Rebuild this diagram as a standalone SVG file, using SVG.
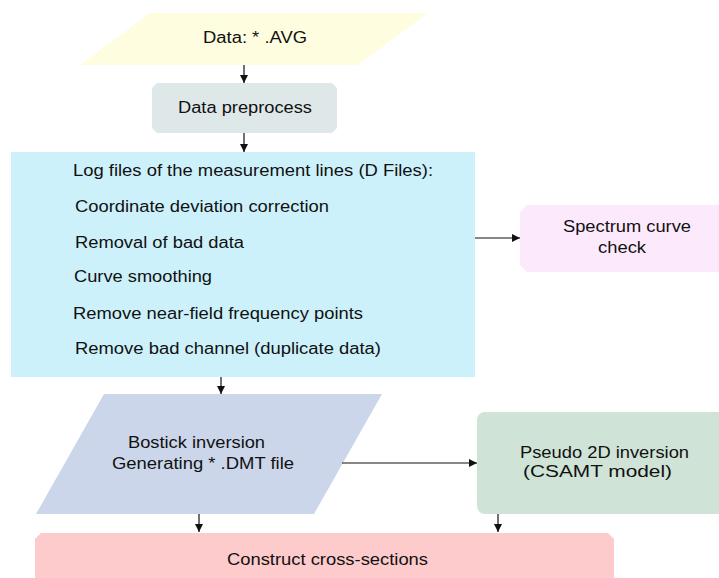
<svg xmlns="http://www.w3.org/2000/svg" width="719" height="578" viewBox="0 0 719 578">
<style>
text{font-family:"Liberation Sans",Arial,sans-serif;font-size:16px;fill:#111}
.c{stroke:#111;stroke-width:1.2;fill:none;marker-end:url(#ah)}
</style>
<defs>
<marker id="ah" viewBox="0 0 10 10" refX="10" refY="5" markerWidth="8" markerHeight="8" markerUnits="userSpaceOnUse" orient="auto">
<path d="M0,0L10,5L0,10z" fill="#111"/>
</marker>
</defs>
<rect width="719" height="578" fill="#fff"/>
<g id="n-data">
<polygon points="150,13 428,13 358,65 80,65" fill="#fefde0"/>
<text x="203" y="43" textLength="104" lengthAdjust="spacingAndGlyphs">Data: * .AVG</text>
</g>
<g id="n-pre">
<polygon points="157,83 332,83 337,88 337,128 332,133 157,133 152,128 152,88" fill="#dfe8e9"/>
<text x="178" y="113" textLength="134" lengthAdjust="spacingAndGlyphs">Data preprocess</text>
</g>
<g id="n-log">
<rect x="11" y="152" width="464" height="225" fill="#ccf1fb"/>
<text x="73" y="176" textLength="360" lengthAdjust="spacingAndGlyphs">Log files of the measurement lines (D Files):</text>
<text x="75" y="212" textLength="254" lengthAdjust="spacingAndGlyphs">Coordinate deviation correction</text>
<text x="75" y="248" textLength="169" lengthAdjust="spacingAndGlyphs">Removal of bad data</text>
<text x="74" y="282" textLength="138" lengthAdjust="spacingAndGlyphs">Curve smoothing</text>
<text x="73" y="319" textLength="290" lengthAdjust="spacingAndGlyphs">Remove near-field frequency points</text>
<text x="75" y="354" textLength="306" lengthAdjust="spacingAndGlyphs">Remove bad channel (duplicate data)</text>
</g>
<g id="n-spec">
<polygon points="527,205 719,205 719,272 527,272 520,265 520,212" fill="#fde9fc"/>
<text x="563" y="232" textLength="128" lengthAdjust="spacingAndGlyphs">Spectrum curve</text>
<text x="598" y="253" textLength="48" lengthAdjust="spacingAndGlyphs">check</text>
</g>
<g id="n-bostick">
<polygon points="104,394 382,394 314,514 36,514" fill="#cbd6ea"/>
<text x="128" y="448" textLength="137" lengthAdjust="spacingAndGlyphs">Bostick inversion</text>
<text x="112" y="469" textLength="182" lengthAdjust="spacingAndGlyphs">Generating * .DMT file</text>
</g>
<g id="n-pseudo">
<rect x="477" y="412" width="250" height="102" rx="8" fill="#cfe3d7"/>
<text x="520" y="458" textLength="169" lengthAdjust="spacingAndGlyphs">Pseudo 2D inversion</text>
<text x="523" y="477" textLength="149" lengthAdjust="spacingAndGlyphs">(CSAMT model)</text>
</g>
<g id="n-construct">
<polygon points="41,533 608,533 614,539 614,578 35,578 35,539" fill="#fdcbcb"/>
<text x="227" y="565" textLength="201" lengthAdjust="spacingAndGlyphs">Construct cross-sections</text>
</g>
<g id="connectors">
<line class="c" x1="244" y1="65" x2="244" y2="83"/>
<line class="c" x1="244" y1="133" x2="244" y2="152"/>
<line class="c" x1="475" y1="238" x2="520" y2="238"/>
<line class="c" x1="221" y1="377" x2="221" y2="394"/>
<line class="c" x1="342" y1="463" x2="477" y2="463"/>
<line class="c" x1="199" y1="514" x2="199" y2="532"/>
<line class="c" x1="498" y1="514" x2="498" y2="532"/>
</g>
</svg>
